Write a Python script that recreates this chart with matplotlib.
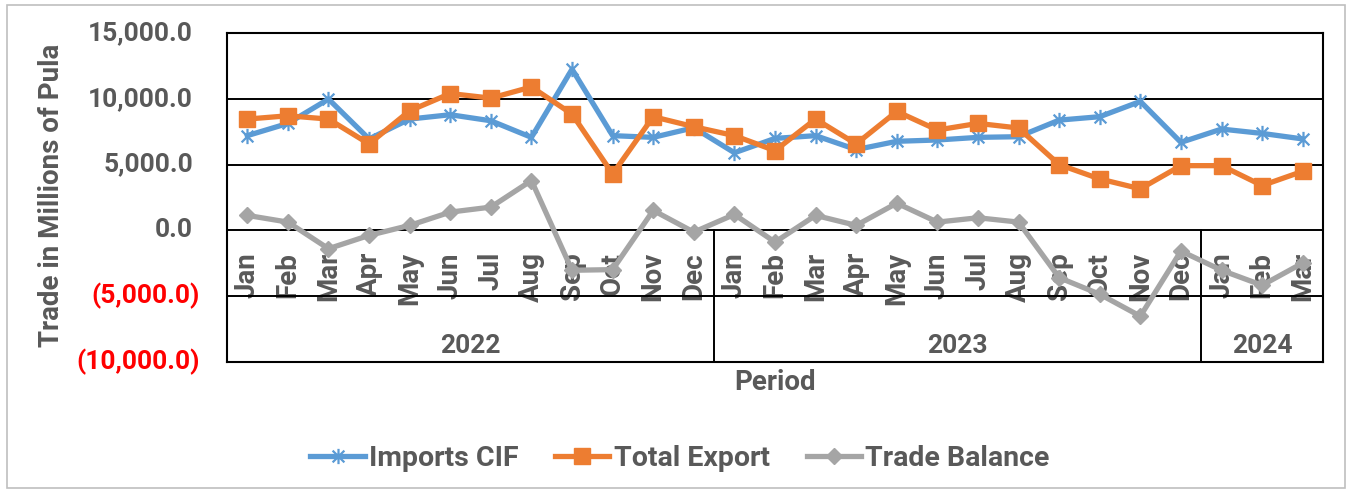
import matplotlib
matplotlib.use("Agg")
import matplotlib.pyplot as plt
from matplotlib.path import Path
from matplotlib.patches import Rectangle

plt.rcParams['font.family'] = ['Roboto', 'DejaVu Sans']
plt.rcParams['font.weight'] = 'bold'

months = ["Jan", "Feb", "Mar", "Apr", "May", "Jun", "Jul", "Aug", "Sep", "Oct", "Nov", "Dec",
          "Jan", "Feb", "Mar", "Apr", "May", "Jun", "Jul", "Aug", "Sep", "Oct", "Nov", "Dec",
          "Jan", "Feb", "Mar"]
years = ["2022", "2023", "2024"]
months_per_year = [12, 12, 3]

imports_cif = [7200, 8130, 9980, 6950, 8460, 8790, 8330, 7070, 12250, 7200, 7070, 7800,
               5900, 6990, 7200, 6140, 6770, 6870, 7070, 7120, 8380, 8640, 9800, 6690,
               7700, 7370, 6950]
total_export = [8460, 8710, 8460, 6570, 9090, 10400, 10050, 10900, 8840, 4290, 8640, 7880,
                7200, 6060, 8460, 6570, 9040, 7630, 8130, 7780, 5000, 3910, 3160, 4920,
                4920, 3410, 4490]
trade_balance = [1140, 630, -1390, -380, 380, 1390, 1770, 3790, -3030, -2980, 1520, -130,
                 1210, -890, 1140, 380, 2070, 630, 960, 630, -3590, -4850, -6520, -1570,
                 -3030, -4170, -2480]

yticks = [15000, 10000, 5000, 0, -5000, -10000]

TXT = "#595959"
BLUE = "#5B9BD5"
ORANGE = "#ED7D31"
GRAY = "#A5A5A5"

star = Path([(-1, -1), (1, 1), (-1, 1), (1, -1), (0, -1.3), (0, 1.3)],
            [Path.MOVETO, Path.LINETO, Path.MOVETO, Path.LINETO, Path.MOVETO, Path.LINETO])

fig = plt.figure(figsize=(13.49, 4.92), dpi=100)
ax = fig.add_axes([227 / 1349, 1 - 362 / 492, 1096 / 1349, 329 / 492])
x = list(range(len(months)))

ax.plot(x, imports_cif, color=BLUE, lw=3.8, marker=star, ms=11, mew=1.6, label="Imports CIF", zorder=4)
ax.plot(x, total_export, color=ORANGE, lw=3.8, marker="s", ms=11, label="Total Export", zorder=5)
ax.plot(x, trade_balance, color=GRAY, lw=3.8, marker="D", ms=8, label="Trade Balance", zorder=6)

ax.set_xlim(-0.5, len(months) - 0.5)
ax.set_ylim(yticks[-1], yticks[0])
ax.set_xticks([])
ax.set_yticks([])
for s in ax.spines.values():
    s.set_linewidth(1.5)
    s.set_color("black")
for v in yticks[1:-1]:
    ax.axhline(v, color="black", lw=1.4, zorder=2)

# category labels inside the plot area
for i, m in enumerate(months):
    ax.text(i, -1650, m, rotation=90, ha="center", va="top", fontsize=20, color=TXT, zorder=1)
start = 0
for yr, n in zip(years, months_per_year):
    ax.text(start + (n - 1) / 2, -8800, yr, ha="center", va="center", fontsize=19, color=TXT)
    if start > 0:
        ax.plot([start - 0.5, start - 0.5], [yticks[-1], 0], color="black", lw=1.4, zorder=2)
    start += n

# y tick labels, negatives in red with parentheses
tr = ax.get_yaxis_transform()
for v in yticks:
    if v < 0:
        ax.text(-27 / 1096, v, f"({abs(v):,.1f})", transform=tr, ha="right", va="center",
                fontsize=19, color="#FF0000", clip_on=False)
    else:
        ax.text(-34 / 1096, v, f"{v:,.1f}", transform=tr, ha="right", va="center",
                fontsize=19, color=TXT, clip_on=False)

fig.text(52 / 1349, 1 - 195 / 492, "Trade in Millions of Pula", rotation=90, ha="center", va="center",
         fontsize=20, color=TXT)
fig.text(775 / 1349, 1 - 383 / 492, "Period", ha="center", va="center", fontsize=20, color=TXT)

fig.legend(loc="center", bbox_to_anchor=(680 / 1349, 1 - 458 / 492), ncol=3, frameon=False,
           fontsize=20.5, handlelength=1.9, handletextpad=0.15, columnspacing=1.3, labelcolor=TXT)

fig.patches.append(Rectangle((7 / 1349, 4 / 492), 1338 / 1349, 483 / 492, transform=fig.transFigure,
                             fill=False, edgecolor="#BFBFBF", lw=1.2))

fig.savefig("out.png", dpi=100)
